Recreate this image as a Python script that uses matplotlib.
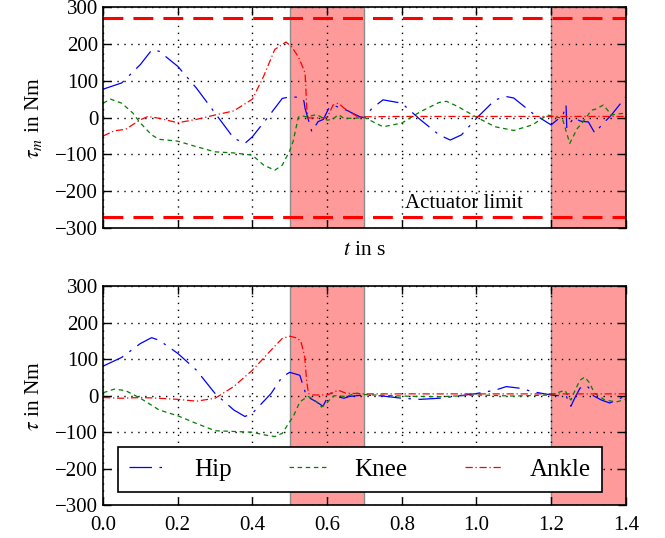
import matplotlib
matplotlib.use("Agg")
import matplotlib.pyplot as plt

plt.rcParams['font.family'] = ['Liberation Serif', 'DejaVu Serif']
plt.rcParams['mathtext.fontset'] = 'stix'

# --- motor torques tau_m (top) ---
t_hip_m = [0, 0.05, 0.1, 0.13, 0.15, 0.2, 0.25, 0.3, 0.35, 0.38, 0.4, 0.45, 0.48, 0.5,
           0.527, 0.538, 0.541, 0.559, 0.576, 0.59, 0.605, 0.62, 0.65, 0.688, 0.7, 0.72,
           0.75, 0.8, 0.85, 0.9, 0.93, 0.96, 1.0, 1.05, 1.08, 1.1, 1.15, 1.2, 1.232, 1.24,
           1.242, 1.26, 1.28, 1.30, 1.317, 1.34, 1.36, 1.4]
hip_m = [77, 94, 144, 183, 180, 139, 80, 12, -56, -70, -52, 12, 52, 56,
         55, 45, 25, -38, -11, -5, 26, 32, 21, 2, 0, 25,
         48, 39, -6, -47, -61, -47, -2, 48, 57, 53, 12, -20, 7, 34,
         -29, -1, -10, -12, -42, -15, 5, 56]

t_knee_m = [0, 0.02, 0.05, 0.08, 0.1, 0.13, 0.15, 0.2, 0.25, 0.3, 0.35, 0.4, 0.43, 0.46,
            0.48, 0.5, 0.509, 0.523, 0.53, 0.545, 0.572, 0.6, 0.615, 0.63, 0.645, 0.67,
            0.7, 0.75, 0.8, 0.85, 0.9, 0.92, 0.95, 1.0, 1.05, 1.1, 1.15, 1.19, 1.23, 1.25,
            1.27, 1.285, 1.308, 1.32, 1.34, 1.362, 1.38, 1.4]
knee_m = [39, 50, 39, 12, -15, -47, -59, -64, -79, -93, -96, -102, -129, -143,
          -129, -90, -65, 1, 5, 2, 8, -7, -5, 8, -2, -2,
          0, -25, -15, 16, 41, 44, 30, 1, -25, -35, -20, 7, -2, -70,
          -30, -12, 20, 23, 34, 7, 10, 12]

t_ankle_m = [0, 0.03, 0.06, 0.1, 0.12, 0.15, 0.2, 0.25, 0.3, 0.35, 0.4, 0.43, 0.46, 0.49,
             0.505, 0.523, 0.536, 0.541, 0.546, 0.55, 0.58, 0.6, 0.616, 0.63, 0.645, 0.68,
             0.7, 0.8, 0.9, 1.0, 1.1, 1.2, 1.3, 1.4]
ankle_m = [-50, -36, -32, -6, 3, -2, -14, -5, 7, 18, 50, 112, 185, 205,
           192, 165, 134, 121, 20, -1, -1, 0, 34, 39, 26, 3,
           2, 3, 3, 3, 3, 3, 3, 3]

# --- joint torques tau (bottom) ---
t_hip = [0, 0.05, 0.1, 0.13, 0.15, 0.2, 0.25, 0.3, 0.35, 0.38, 0.4, 0.45, 0.48, 0.5,
         0.527, 0.541, 0.554, 0.572, 0.589, 0.602, 0.61, 0.63, 0.645, 0.66, 0.7, 0.75,
         0.8, 0.85, 0.9, 0.95, 1.0, 1.05, 1.08, 1.12, 1.15, 1.2, 1.241, 1.253, 1.263,
         1.277, 1.29, 1.3, 1.313, 1.335, 1.357, 1.375, 1.4]
hip = [81, 105, 143, 159, 152, 116, 70, 6, -39, -57, -48, 6, 52, 64,
       56, 11, -7, -17, -29, -3, 7, -3, -7, -2, 2, -1,
       -7, -10, -7, -1, 6, 15, 25, 20, 11, 2, -2, -29, -7,
       20, 29, 23, 0, -12, -20, -12, 0]

t_knee = [0, 0.03, 0.06, 0.1, 0.15, 0.2, 0.25, 0.3, 0.35, 0.4, 0.43, 0.46, 0.48, 0.5,
          0.509, 0.527, 0.541, 0.55, 0.558, 0.572, 0.585, 0.598, 0.61, 0.62, 0.65, 0.68,
          0.7, 0.8, 0.9, 1.0, 1.1, 1.2, 1.237, 1.246, 1.253, 1.263, 1.277, 1.29, 1.303,
          1.316, 1.344, 1.375, 1.4]
knee = [8, 18, 14, -7, -39, -55, -76, -96, -98, -100, -107, -112, -103, -71,
        -58, -17, -7, -2, -7, -17, -31, -22, -7, 0, -2, 7,
        3, -1, -3, 2, -1, 2, 15, -2, -12, 12, 42, 51, 35,
        7, -12, -17, -10]

t_ankle = [0, 0.05, 0.1, 0.15, 0.2, 0.25, 0.3, 0.35, 0.4, 0.45, 0.48, 0.5, 0.52, 0.53,
           0.54, 0.545, 0.55, 0.56, 0.6, 0.63, 0.65, 0.7, 0.8, 0.9, 1.0, 1.1, 1.2, 1.3, 1.4]
ankle = [-5, -7, -5, -7, -10, -15, -7, 25, 70, 125, 157, 163, 158, 148,
         107, 43, 6, 2, 2, 15, 7, 5, 5, 5, 5, 5, 5, 5, 5]

limit = 270
spans = [(0.5, 0.7), (1.2, 1.4)]
xticks = [0.0, 0.2, 0.4, 0.6, 0.8, 1.0, 1.2, 1.4]
yticks = [-300, -200, -100, 0, 100, 200, 300]

hip_style = dict(color='b', lw=0.9, dashes=(18, 6, 2, 6))
knee_style = dict(color='g', lw=0.9, dashes=(3.6, 2.9))
ankle_style = dict(color='r', lw=0.9, dashes=(5.8, 2.2, 1, 2.2))

fig = plt.figure(figsize=(6.65, 5.38), dpi=100)
ax1 = fig.add_axes([0.155, 0.576, 0.786, 0.411])
ax2 = fig.add_axes([0.155, 0.061, 0.786, 0.407])


def style_axes(ax):
    for a, b in spans:
        ax.axvspan(a, b, facecolor='#ff9a9a', edgecolor='#8c8c8c', lw=1)
    ax.set_xlim(0, 1.4)
    ax.set_ylim(-300, 300)
    ax.set_xticks(xticks)
    ax.set_yticks(yticks)
    ax.grid(True, color='k', linestyle=(0, (1, 4)), lw=1)
    ax.tick_params(direction='in', top=True, right=True, length=6, width=1,
                   labelsize=15)
    ax.tick_params(axis='x', pad=8)
    for s in ax.spines.values():
        s.set_linewidth(1.2)


style_axes(ax1)
ax1.plot(t_hip_m, hip_m, **hip_style)
ax1.plot(t_knee_m, knee_m, **knee_style)
ax1.plot(t_ankle_m, ankle_m, **ankle_style)
ax1.plot([0, 1.4], [limit, limit], color='r', lw=2.2, dashes=(6.5, 3.3))
ax1.plot([0, 1.4], [-limit, -limit], color='r', lw=2.2, dashes=(6.5, 3.3))
ax1.text(0.81, -232, 'Actuator limit', fontsize=15, va='center')
ax1.tick_params(labelbottom=False)
ax1.set_xlabel('$t$ in s', fontsize=15.5, labelpad=9)
ax1.set_ylabel(r'$\tau_m$ in Nm', fontsize=15.5, labelpad=8)

style_axes(ax2)
ax2.plot(t_hip, hip, label='Hip', **hip_style)
ax2.plot(t_knee, knee, label='Knee', **knee_style)
ax2.plot(t_ankle, ankle, label='Ankle', **ankle_style)
ax2.set_ylabel(r'$\tau$ in Nm', fontsize=15.5, labelpad=8)
leg = ax2.legend(loc='lower left', bbox_to_anchor=(0.0287, 0.059), ncol=3,
                 fontsize=18, fancybox=False, framealpha=1, edgecolor='k',
                 borderaxespad=0, borderpad=0.45, handlelength=1.5,
                 handletextpad=1.1, columnspacing=2.3)
leg.get_frame().set_linewidth(1.2)

fig.savefig('out.png', dpi=100)
